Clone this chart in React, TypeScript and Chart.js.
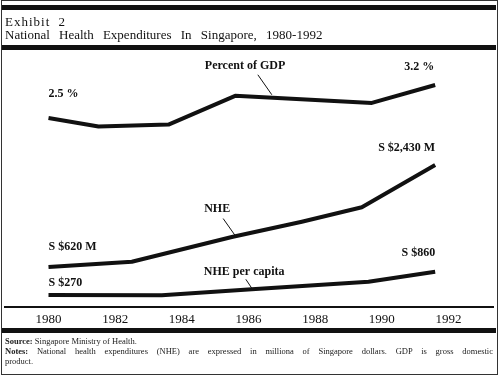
import React, { useEffect, useRef } from "react";
import { Chart, registerables } from "chart.js";

Chart.register(...registerables);

// ---------- data ----------
const TICK_YEARS = [1980, 1982, 1984, 1986, 1988, 1990, 1992];

const GDP_YEARS = [1980, 1981.5, 1983.6, 1985.6, 1989.7, 1991.6];
const GDP_PERCENT = [2.5, 2.32, 2.36, 2.97, 2.82, 3.2];

const NHE_YEARS = [1980, 1982.5, 1985.5, 1987.6, 1989.4, 1991.6];
const NHE_MILLIONS = [620, 714, 1153, 1424, 1680, 2430];

const CAPITA_YEARS = [1980, 1983.4, 1986.1, 1989.6, 1991.6];
const CAPITA_DOLLARS = [270, 262, 414, 607, 860];

const TITLE_LINE_1 = "Exhibit 2";
const TITLE_LINE_2 = "National Health Expenditures In Singapore, 1980-1992";
const SOURCE_LABEL = "Source:";
const SOURCE_TEXT = "Singapore Ministry of Health.";
const NOTES_LABEL = "Notes:";
const NOTES_TEXT =
  "National health expenditures (NHE) are expressed in milliona of Singapore dollars. GDP is gross domestic";
const NOTES_TAIL = "product.";

// ---------- annotations ----------
const INK = "#111111";
const SERIF = "'Liberation Serif', 'Times New Roman', serif";

type Label = { text: string; axis: string; x: number; y: number; dx: number; dy: number; align: CanvasTextAlign };
const LABELS: Label[] = [
  { text: "2.5 %", axis: "yGdp", x: 1980, y: 2.5, dx: 0, dy: -24, align: "left" },
  { text: "3.2 %", axis: "yGdp", x: 1991.6, y: 3.2, dx: -1, dy: -18, align: "right" },
  { text: "Percent of GDP", axis: "yGdp", x: 1986.7, y: 2.93, dx: -67, dy: -32, align: "left" },
  { text: "S $2,430 M", axis: "yNhe", x: 1991.6, y: 2430, dx: 0, dy: -17, align: "right" },
  { text: "NHE", axis: "yNhe", x: 1985.6, y: 1160, dx: -31, dy: -28, align: "left" },
  { text: "S $620 M", axis: "yNhe", x: 1980, y: 620, dx: 0, dy: -20, align: "left" },
  { text: "NHE per capita", axis: "yCap", x: 1986.1, y: 414, dx: -48, dy: -17, align: "left" },
  { text: "S $270", axis: "yCap", x: 1980, y: 270, dx: 0, dy: -12, align: "left" },
  { text: "S $860", axis: "yCap", x: 1991.6, y: 860, dx: 0, dy: -19, align: "right" },
];

type Leader = { axis: string; x: number; y: number; dx1: number; dy1: number; dx2: number; dy2: number };
const LEADERS: Leader[] = [
  { axis: "yGdp", x: 1986.7, y: 2.93, dx1: -14, dy1: -23, dx2: 0, dy2: -3 },
  { axis: "yNhe", x: 1985.6, y: 1160, dx1: -12, dy1: -18, dx2: 0, dy2: -1 },
  { axis: "yCap", x: 1986.1, y: 414, dx1: -6, dy1: -10, dx2: 0, dy2: -1 },
];

const annotationPlugin = {
  id: "annotations",
  afterDatasetsDraw(chart: any) {
    const ctx = chart.ctx as CanvasRenderingContext2D;
    const xs = chart.scales.x;
    ctx.save();
    ctx.fillStyle = INK;
    ctx.font = `bold 12px ${SERIF}`;
    ctx.textBaseline = "middle";
    LABELS.forEach((l) => {
      const px = xs.getPixelForValue(l.x) + l.dx;
      const py = chart.scales[l.axis].getPixelForValue(l.y) + l.dy;
      ctx.textAlign = l.align;
      ctx.fillText(l.text, px, py);
    });
    ctx.strokeStyle = INK;
    ctx.lineWidth = 1;
    LEADERS.forEach((d) => {
      const px = xs.getPixelForValue(d.x);
      const py = chart.scales[d.axis].getPixelForValue(d.y);
      ctx.beginPath();
      ctx.moveTo(px + d.dx1, py + d.dy1);
      ctx.lineTo(px + d.dx2, py + d.dy2);
      ctx.stroke();
    });
    ctx.restore();
  },
};

const toPoints = (xs: number[], ys: number[]) => xs.map((x, i) => ({ x, y: ys[i] }));

function ChartCanvas() {
  const ref = useRef<HTMLCanvasElement | null>(null);
  useEffect(() => {
    if (!ref.current) return;
    const lineStyle = {
      borderColor: INK,
      borderWidth: 4,
      pointRadius: 0,
      tension: 0,
      fill: false,
      borderCapStyle: "butt" as const,
      borderJoinStyle: "round" as const,
    };
    const chart = new Chart(ref.current, {
      type: "line",
      data: {
        datasets: [
          { label: "Percent of GDP", data: toPoints(GDP_YEARS, GDP_PERCENT), yAxisID: "yGdp", ...lineStyle },
          { label: "NHE", data: toPoints(NHE_YEARS, NHE_MILLIONS), yAxisID: "yNhe", ...lineStyle },
          { label: "NHE per capita", data: toPoints(CAPITA_YEARS, CAPITA_DOLLARS), yAxisID: "yCap", ...lineStyle },
        ],
      },
      options: {
        animation: false,
        responsive: false,
        layout: { padding: { left: 5, right: 7, top: 55, bottom: 0 } },
        plugins: { legend: { display: false }, tooltip: { enabled: false }, title: { display: false } },
        scales: {
          x: {
            type: "linear",
            min: 1978.695,
            max: 1993.335,
            afterBuildTicks: (s: any) => {
              s.ticks = TICK_YEARS.map((v) => ({ value: v }));
            },
            afterFit: (s: any) => {
              s.height = 69;
            },
            grid: { display: false, drawTicks: false },
            border: { display: true, color: INK, width: 2 },
            ticks: {
              padding: 5,
              color: INK,
              font: { family: SERIF, size: 13 },
              maxRotation: 0,
              autoSkip: false,
              callback: (v: any) => String(v),
            },
          },
          yGdp: { display: false, min: -1.509, max: 3.837 },
          yNhe: { display: false, min: -90, max: 4382 },
          yCap: { display: false, min: -34, max: 6347 },
        },
      } as any,
      plugins: [annotationPlugin],
    });
    return () => chart.destroy();
  }, []);
  return (
    <canvas
      ref={ref}
      width={500}
      height={376}
      style={{ position: "absolute", left: 0, top: 0, width: 500, height: 376, display: "block" }}
    />
  );
}

export default function App() {
  const bar = (top: number): React.CSSProperties => ({
    position: "absolute",
    left: 2,
    top,
    width: 494,
    height: 5,
    background: INK,
  });
  return (
    <div
      style={{
        position: "fixed",
        left: 0,
        top: 0,
        width: 500,
        height: 376,
        background: "#fff",
        overflow: "hidden",
        fontFamily: SERIF,
        color: INK,
      }}
    >
      <ChartCanvas />
      <div
        style={{
          position: "absolute",
          left: 1,
          top: 0,
          width: 497,
          height: 375,
          boxSizing: "border-box",
          border: "1px solid #333",
        }}
      />
      <div style={bar(5)} />
      <div
        style={{
          position: "absolute",
          left: 5,
          top: 15,
          fontSize: 13,
          lineHeight: "13px",
          whiteSpace: "nowrap",
          letterSpacing: 1,
          wordSpacing: 4,
        }}
      >
        {TITLE_LINE_1}
      </div>
      <div
        style={{
          position: "absolute",
          left: 5,
          top: 28,
          fontSize: 13,
          lineHeight: "13px",
          whiteSpace: "nowrap",
          wordSpacing: 6,
        }}
      >
        {TITLE_LINE_2}
      </div>
      <div style={bar(45)} />
      <div style={bar(328)} />
      <div
        style={{
          position: "absolute",
          left: 5,
          top: 336,
          width: 488,
          fontSize: 8.5,
          lineHeight: "10px",
          color: "#222",
        }}
      >
        <div style={{ whiteSpace: "nowrap" }}>
          <b>{SOURCE_LABEL}</b> {SOURCE_TEXT}
        </div>
        <div style={{ textAlign: "justify", textAlignLast: "justify" as any, whiteSpace: "normal" }}>
          <b>{NOTES_LABEL}</b> {NOTES_TEXT}
        </div>
        <div>{NOTES_TAIL}</div>
      </div>
    </div>
  );
}
